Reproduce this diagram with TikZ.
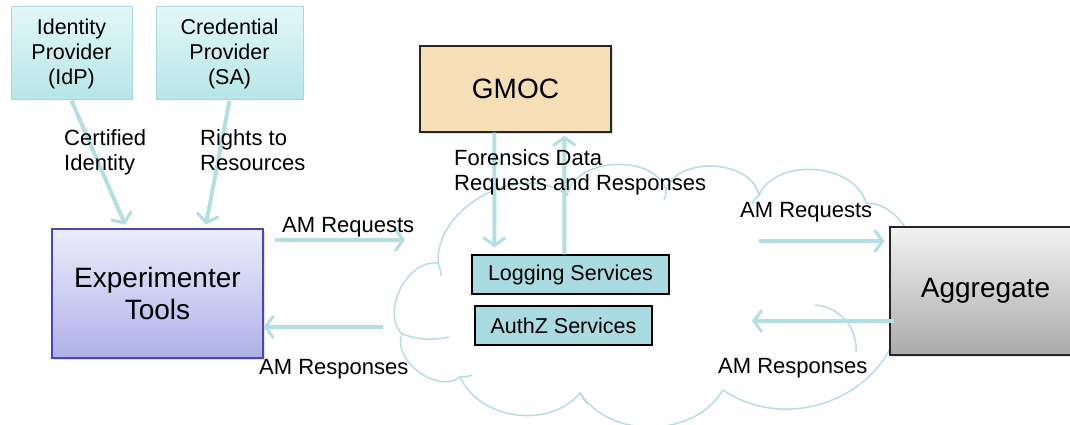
\documentclass[tikz,border=0pt]{standalone}
\usepackage{fontspec}
\setmainfont{Liberation Sans}
\usetikzlibrary{arrows.meta,shadows,calc}
\definecolor{arrowc}{HTML}{B4DFE2}
\definecolor{cloudc}{HTML}{B6DEE1}
\definecolor{provtop}{HTML}{E2F7F7}
\definecolor{provbot}{HTML}{B7E6E8}
\definecolor{provbd}{HTML}{A9D9DC}
\definecolor{exptop}{HTML}{EDEDFB}
\definecolor{expbot}{HTML}{AFB0EA}
\definecolor{expbd}{HTML}{4848B4}
\definecolor{gmocc}{HTML}{F6DFB6}
\definecolor{svcc}{HTML}{A9DBE0}
\definecolor{aggtop}{HTML}{F2F2F2}
\definecolor{aggbot}{HTML}{ABABAB}
\tikzset{
  lbl/.style={font=\fontsize{22}{25}\selectfont, align=left, inner sep=0pt, anchor=base west},
  prov/.style={draw=provbd, line width=1pt, top color=provtop, bottom color=provbot,
    inner sep=0pt, align=center, font=\fontsize{21.5}{25}\selectfont},
  bigbox/.style={line width=1.3pt, inner sep=0pt, align=center, font=\fontsize{28}{32}\selectfont,
    drop shadow={shadow xshift=2pt, shadow yshift=-2pt, opacity=0.25}},
  svc/.style={draw=black, line width=1.2pt, fill=svcc, inner sep=0pt, font=\fontsize{21.5}{25}\selectfont},
  flow/.style={draw=arrowc, line width=4pt, -{Straight Barb[length=8pt,width=22pt,line width=3pt]}},
  cloudline/.style={draw=cloudc, line width=1.5pt},
}
\begin{document}
\begin{tikzpicture}[x=1pt,y=-1pt]
\useasboundingbox (0,0) rectangle (1070,425);
% cloud
\coordinate (c1) at (402,334);
\coordinate (c2) at (438,263);
\coordinate (c3) at (567,195);
\coordinate (c4) at (666,190);
\coordinate (c5) at (759,195);
\coordinate (c6) at (866,203);
\coordinate (c7) at (893,343);
\coordinate (c8) at (723,390);
\coordinate (c9) at (580,393);
\coordinate (c10) at (460,377);
\draw[cloudline, fill=white]
  (c1) to[bend left=70] (c2) to[bend left=65] (c3) to[bend left=75] (c4)
  to[bend left=75] (c5) to[bend left=70] (c6) to[bend left=80] (c7)
  to[bend left=50] (c8) to[bend left=58] (c9) to[bend left=58] (c10)
  to[bend left=75] (c1) -- cycle;
% inner arc fragments of the cloud
\draw[cloudline] (c1) to[bend right=15] (449,337);
\draw[cloudline] (c2) to[bend left=10] (441,276);
\draw[cloudline] (c10) to[bend right=10] (472,375);
\draw[cloudline] (c9) to[bend right=10] (588,404);
\draw[cloudline] (815,305) to[bend left=45] (856,352);
\draw[cloudline] (c4) to[bend left=10] (664,200);
\draw[cloudline] (c5) to[bend right=10] (752,204);
% boxes
\node[prov, minimum width=121pt, minimum height=93pt] (idp) at (71.5,53.5) {Identity\\Provider\\(IdP)};
\node[prov, minimum width=147pt, minimum height=93pt] (sa) at (229.5,53.5) {Credential\\Provider\\(SA)};
\node[bigbox, draw=expbd, top color=exptop, bottom color=expbot, minimum width=211pt, minimum height=129pt] (exp) at (157.5,293.5) {Experimenter\\Tools};
\node[bigbox, draw=black!85, fill=gmocc, minimum width=191pt, minimum height=86pt] (gmoc) at (515.5,89) {GMOC};
\node[bigbox, draw=black!85, top color=aggtop, bottom color=aggbot, minimum width=191pt, minimum height=128pt] (agg) at (985.5,291) {Aggregate};
\node[svc, minimum width=197pt, minimum height=39pt] (log) at (570.5,274.5) {Logging Services};
\node[svc, minimum width=177pt, minimum height=39pt] (authz) at (563.5,325.5) {AuthZ Services};
% free ends
\coordinate (reqL) at (275,240);
\coordinate (reqLend) at (405,240);
\coordinate (resL) at (383,327);
\coordinate (reqR) at (759,241);
\coordinate (resR) at (752,321);
% connectors
\draw[flow, shorten >=4pt] (idp.south) -- ($(exp.north west)!0.355!(exp.north east)$);
\draw[flow, shorten >=4pt] (sa.south) -- ($(exp.north west)!0.725!(exp.north east)$);
\draw[flow] (reqL) -- (reqLend);
\draw[flow] (resL) -- (resL -| exp.east);
\draw[flow, shorten >=7pt] ($(gmoc.south west)+(75,0)$) -- ($(log.north west)+(23,0)$);
\draw[flow, shorten >=3pt] ($(log.north west)+(93,0)$) -- ($(gmoc.south west)+(145,0)$);
\draw[flow, shorten >=5pt] (reqR) -- (reqR -| agg.west);
\draw[flow, shorten <=-5pt] (resR -| agg.west) -- (resR);
% labels
\node[lbl] (l1) at (64,170) {Certified\\Identity};
\node[lbl] (l2) at (200,170) {Rights to\\Resources};
\node[lbl] (l3) at (282,232) {AM Requests};
\node[lbl] (l4) at (259,374) {AM Responses};
\node[lbl] (l5) at (454,190) {Forensics Data\\Requests and Responses};
\node[lbl] (l6) at (740,217) {AM Requests};
\node[lbl] (l7) at (718,373) {AM Responses};
\end{tikzpicture}
\end{document}
